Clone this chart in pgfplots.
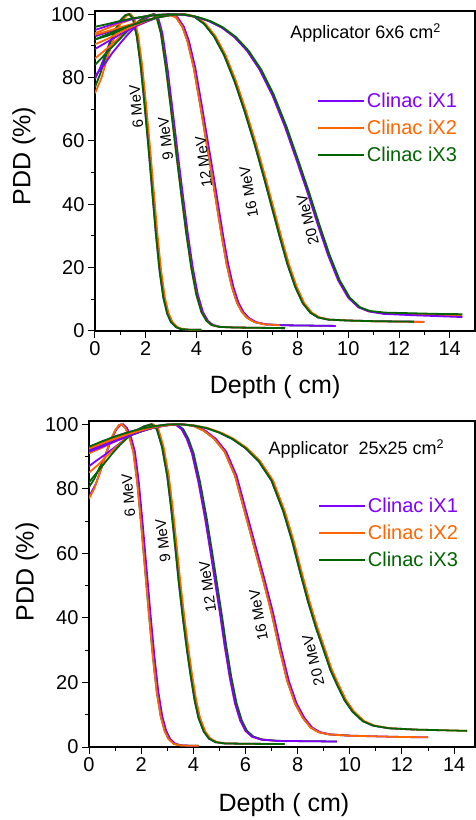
\documentclass[border=0pt]{standalone}
\usepackage{fontspec}
\setmainfont{Liberation Sans}
\usepackage{pgfplots}
\pgfplotsset{compat=1.18}

\definecolor{cv}{RGB}{128,0,255}
\definecolor{co}{RGB}{255,102,0}
\definecolor{cg}{RGB}{0,100,0}

\tikzset{mev/.style={font=\fontsize{15}{17}\selectfont, inner sep=0pt}}
\pgfplotsset{
  pdd/.style={
    scale only axis,
    xmin=0, ymin=0, ymax=101,
    xtick={0,2,...,14}, ytick={0,20,...,100},
    minor x tick num=1, minor y tick num=1,
    tick align=outside, xtick pos=left, ytick pos=left,
    major tick length=7pt, minor tick length=4pt,
    every tick/.style={black, line width=1pt},
    axis line style={line width=1.1pt},
    /pgf/number format/assume math mode=true,
    tick label style={font=\fontsize{20}{24}\selectfont},
    label style={font=\fontsize{25}{30}\selectfont},
    xlabel={Depth ( cm)}, ylabel={PDD (\%)},
    every axis plot/.append style={line width=1.8pt, forget plot},
    legend style={draw=none, fill=none, anchor=north west, inner sep=0pt,
      font=\fontsize{20}{24}\selectfont, row sep=7pt},
    legend cell align=left,
    legend image code/.code={\draw[#1, line width=1.8pt] (0pt,0pt) -- (46pt,0pt);},
  },
}

\begin{document}
\begin{tikzpicture}
\path[use as bounding box] (0,0) rectangle (476pt,820pt);

% ---------- Applicator 6x6 ----------
\begin{axis}[pdd, at={(95pt,489pt)}, anchor=south west,
  width=380pt, height=320pt, xmax=15,
  xlabel style={at={(axis description cs:0.474,-0.175)}, anchor=center},
  ylabel style={at={(axis description cs:-0.187,0.547)}, anchor=center, rotate=0},
  legend style={at={(axis description cs:0.584,0.75)}}]
% 6 MeV
\addplot[cv] coordinates {(0,79.5)(0.2,83)(0.4,87)(0.6,91.5)(0.8,95)(1.0,98)(1.2,99.7)(1.35,100)(1.5,98.5)(1.65,93)(1.8,84)(1.95,72)(2.1,59)(2.25,45)(2.4,31)(2.55,19)(2.7,10.5)(2.85,5.5)(3.0,2.8)(3.2,1.2)(3.4,0.6)(3.7,0.4)(4.2,0.4)};
\addplot[co] coordinates {(0,75)(0.26,80)(0.46,85.5)(0.66,90.5)(0.86,94.8)(1.06,97.8)(1.26,99.6)(1.41,100)(1.56,98.5)(1.71,93)(1.86,84)(2.01,72)(2.16,59)(2.31,45)(2.46,31)(2.61,19)(2.76,10.5)(2.91,5.5)(3.06,2.8)(3.26,1.2)(3.46,0.6)(3.76,0.4)(4.2,0.4)};
\addplot[cg] coordinates {(0,77)(0.2,81)(0.4,86)(0.6,91)(0.8,95)(1.0,98)(1.2,99.7)(1.35,100)(1.5,98.5)(1.65,93)(1.8,84)(1.95,72)(2.1,59)(2.25,45)(2.4,31)(2.55,19)(2.7,10.5)(2.85,5.5)(3.0,2.8)(3.2,1.2)(3.4,0.6)(3.7,0.4)(4.2,0.4)};
% 9 MeV
\addplot[cv] coordinates {(0,80.5)(0.36,84)(0.66,87.5)(0.96,90.5)(1.26,93.3)(1.56,95.8)(1.86,97.9)(2.16,99.4)(2.36,100)(2.51,98.5)(2.66,94)(2.86,83)(3.06,70)(3.26,56.5)(3.46,43.5)(3.66,31)(3.86,20)(4.06,11.5)(4.26,6)(4.46,3.2)(4.66,1.9)(4.96,1.3)(5.56,1.1)(6.5,1.0)(7.5,0.9)};
\addplot[co] coordinates {(0,86)(0.3,88)(0.6,90)(0.9,92.2)(1.2,94.4)(1.5,96.5)(1.8,98.2)(2.1,99.5)(2.3,100)(2.45,98.5)(2.6,94)(2.8,83)(3.0,70)(3.2,56.5)(3.4,43.5)(3.6,31)(3.8,20)(4.0,11.5)(4.2,6)(4.4,3.2)(4.6,1.9)(4.9,1.3)(5.5,1.1)(6.5,1.0)(7.5,0.9)};
\addplot[cg] coordinates {(0,84)(0.3,86.5)(0.6,89)(0.9,91.5)(1.2,94)(1.5,96.3)(1.8,98.2)(2.1,99.5)(2.3,100)(2.45,98.5)(2.6,94)(2.8,83)(3.0,70)(3.2,56.5)(3.4,43.5)(3.6,31)(3.8,20)(4.0,11.5)(4.2,6)(4.4,3.2)(4.6,1.9)(4.9,1.3)(5.5,1.1)(6.5,1.0)(7.5,0.9)};
% 12 MeV
\addplot[cg] coordinates {(0,92)(0.5,93.2)(1.0,94.8)(1.5,96.2)(2.0,97.8)(2.5,99.2)(2.9,100)(3.2,99)(3.45,96)(3.65,91.5)(3.9,83)(4.15,71.5)(4.4,59.5)(4.6,50)(4.8,40)(5.0,30)(5.2,21)(5.4,14)(5.6,9)(5.8,6)(6.0,4.2)(6.3,2.8)(6.7,2.1)(7.5,1.8)(8.5,1.7)(9.5,1.6)};
\addplot[cv] coordinates {(0,89)(0.56,91.6)(1.06,93.9)(1.56,96)(2.06,97.7)(2.56,99.2)(2.96,100)(3.26,99)(3.51,96)(3.71,91.5)(3.96,83)(4.21,71.5)(4.46,59.5)(4.66,50)(4.86,40)(5.06,30)(5.26,21)(5.46,14)(5.66,9)(5.86,6)(6.06,4.2)(6.36,2.8)(6.76,2.1)(7.5,1.8)(8.5,1.7)(9.5,1.6)};
\addplot[co] coordinates {(0,90.5)(0.5,92.2)(1.0,94.3)(1.5,96.2)(2.0,97.8)(2.5,99.2)(2.9,100)(3.2,99)(3.45,96)(3.65,91.5)(3.9,83)(4.15,71.5)(4.4,59.5)(4.6,50)(4.8,40)(5.0,30)(5.2,21)(5.4,14)(5.6,9)(5.8,6)(6.0,4.2)(6.3,2.8)(6.7,2.1)(7.3,1.8)};
% 16 MeV
\addplot[cv] coordinates {(0,93)(0.5,94.3)(1.0,95.6)(1.5,96.7)(2.0,98)(2.5,99)(3.0,99.7)(3.5,100)(3.9,99.3)(4.3,97)(4.7,93)(5.1,87)(5.5,79)(5.9,69.5)(6.3,59)(6.7,47.5)(7.0,38.5)(7.3,29.5)(7.6,21)(7.9,14)(8.2,8.8)(8.5,5.8)(8.8,4.3)(9.2,3.6)(10,3.3)(11,3.1)(12,3.0)(13,2.9)};
\addplot[co] coordinates {(0,93.5)(0.56,94.8)(1.06,96)(1.56,97.1)(2.06,98.2)(2.56,99.1)(3.06,99.7)(3.56,100)(3.96,99.3)(4.36,97)(4.76,93)(5.16,87)(5.56,79)(5.96,69.5)(6.36,59)(6.76,47.5)(7.06,38.5)(7.36,29.5)(7.66,21)(7.96,14)(8.26,8.8)(8.56,5.8)(8.86,4.3)(9.26,3.6)(10.06,3.3)(11,3.05)(12,2.95)(13,2.85)};
\addplot[cg] coordinates {(0,92)(0.5,93.7)(1.0,95.3)(1.5,96.7)(2.0,98)(2.5,99)(3.0,99.7)(3.5,100)(3.9,99.3)(4.3,97)(4.7,93)(5.1,87)(5.5,79)(5.9,69.5)(6.3,59)(6.7,47.5)(7.0,38.5)(7.3,29.5)(7.6,21)(7.9,14)(8.2,8.8)(8.5,5.8)(8.8,4.3)(9.2,3.6)(10,3.3)(11,3.1)(12,3.0)(12.6,2.95)};
% 20 MeV
\addplot[co] coordinates {(0,94)(0.5,95.6)(1.0,97.1)(1.5,98.5)(2.0,99.3)(2.5,99.8)(3.0,100)(3.5,99.8)(4.0,99.1)(4.5,97.8)(5.0,95.8)(5.5,92.8)(6.0,88.5)(6.5,82.5)(7.0,74.5)(7.5,64.5)(8.0,53)(8.4,43.5)(8.8,33.5)(9.2,24)(9.6,16)(10.0,10.5)(10.4,7.5)(10.8,6.2)(11.4,5.5)(12.5,5.2)(13.5,5.0)(14.5,4.8)};
\addplot[cv] coordinates {(0,95)(0.5,96.3)(1.0,97.5)(1.5,98.5)(2.0,99.3)(2.5,99.8)(3.0,100)(3.5,99.8)(4.0,99.1)(4.5,97.8)(5.0,95.8)(5.5,92.8)(6.0,88.5)(6.5,82.5)(7.0,74.5)(7.5,64.5)(8.0,53)(8.4,43.5)(8.8,33.5)(9.2,24)(9.6,16)(10.0,10.5)(10.4,7.5)(10.8,6.2)(11.4,5.4)(12.5,5.0)(13.5,4.7)(14.5,4.4)};
\addplot[cg] coordinates {(0,96)(0.56,97)(1.06,98)(1.56,98.8)(2.06,99.4)(2.56,99.8)(3.06,100)(3.56,99.8)(4.06,99.1)(4.56,97.8)(5.06,95.8)(5.56,92.8)(6.06,88.5)(6.56,82.5)(7.06,74.5)(7.56,64.5)(8.06,53)(8.46,43.5)(8.86,33.5)(9.26,24)(9.66,16)(10.06,10.5)(10.46,7.5)(10.86,6.3)(11.46,5.8)(12.5,5.6)(13.5,5.4)(14.5,5.3)};

\addlegendimage{cv}\addlegendentry[text=cv]{Clinac iX1}
\addlegendimage{co}\addlegendentry[text=co]{Clinac iX2}
\addlegendimage{cg}\addlegendentry[text=cg]{Clinac iX3}

\node[anchor=west, font=\fontsize{18}{20}\selectfont] at (axis description cs:0.505,0.931) {Applicator 6x6 cm\textsuperscript{2}};
\node[mev, rotate=95] at (axis cs:1.63,70.8) {6 MeV};
\node[mev, rotate=97] at (axis cs:2.79,60.8) {9 MeV};
\node[mev, rotate=98] at (axis cs:4.29,53.4) {12 MeV};
\node[mev, rotate=100] at (axis cs:6.07,43.9) {16 MeV};
\node[mev, rotate=104] at (axis cs:8.4,35) {20 MeV};
\end{axis}

% ---------- Applicator 25x25 ----------
\begin{axis}[pdd, at={(89pt,73pt)}, anchor=south west,
  width=386pt, height=326pt, xmax=14.8,
  xlabel style={at={(axis description cs:0.505,-0.178)}, anchor=center},
  ylabel style={at={(axis description cs:-0.16,0.537)}, anchor=center, rotate=0},
  legend style={at={(axis description cs:0.593,0.77)}}]
% 6 MeV
\addplot[cg] coordinates {(0,80.5)(0.2,83)(0.4,86.5)(0.6,89.5)(0.8,94.5)(1.0,98)(1.15,99.7)(1.25,100)(1.4,98.8)(1.55,96)(1.7,91.5)(1.85,82)(2.0,69)(2.15,55)(2.3,41)(2.45,28)(2.6,17)(2.75,9.5)(2.9,5)(3.05,2.5)(3.25,1.0)(3.5,0.5)(3.8,0.4)(4.2,0.4)};
\addplot[cv] coordinates {(0,77.5)(0.26,81.5)(0.46,86)(0.66,91)(0.86,95.5)(1.06,98.5)(1.21,99.8)(1.31,100)(1.46,98.8)(1.61,96)(1.76,91.5)(1.91,82)(2.06,69)(2.21,55)(2.36,41)(2.51,28)(2.66,17)(2.81,9.5)(2.96,5)(3.11,2.5)(3.31,1.0)(3.56,0.5)(3.86,0.4)(4.2,0.4)};
\addplot[co] coordinates {(0,77)(0.2,80)(0.4,84.5)(0.6,89.5)(0.8,94.5)(1.0,98)(1.15,99.7)(1.25,100)(1.4,98.8)(1.55,96)(1.7,91.5)(1.85,82)(2.0,69)(2.15,55)(2.3,41)(2.45,28)(2.6,17)(2.75,9.5)(2.9,5)(3.05,2.5)(3.25,1.0)(3.5,0.5)(3.8,0.4)(4.2,0.4)};
% 9 MeV
\addplot[cv] coordinates {(0,87)(0.3,88.8)(0.6,90.5)(0.9,92.3)(1.2,94.2)(1.5,96.2)(1.8,98)(2.1,99.3)(2.4,100)(2.6,98.5)(2.8,93)(3.0,84)(3.15,74)(3.3,62.5)(3.45,50.5)(3.6,40)(3.75,30.5)(3.9,22)(4.05,14.5)(4.2,9)(4.4,4.8)(4.6,2.6)(4.85,1.5)(5.2,1.1)(6.0,1.0)(7.5,0.9)};
\addplot[co] coordinates {(0,85)(0.36,87.5)(0.66,90)(0.96,92.3)(1.26,94.5)(1.56,96.5)(1.86,98.2)(2.16,99.4)(2.46,100)(2.66,98.5)(2.86,93)(3.06,84)(3.21,74)(3.36,62.5)(3.51,50.5)(3.66,40)(3.81,30.5)(3.96,22)(4.11,14.5)(4.26,9)(4.46,4.8)(4.66,2.6)(4.91,1.5)(5.26,1.1)(6.0,1.0)(7.5,0.9)};
\addplot[cg] coordinates {(0,82)(0.3,85)(0.6,88)(0.9,91)(1.2,93.7)(1.5,96)(1.8,98)(2.1,99.3)(2.4,100)(2.6,98.5)(2.8,93)(3.0,84)(3.15,74)(3.3,62.5)(3.45,50.5)(3.6,40)(3.75,30.5)(3.9,22)(4.05,14.5)(4.2,9)(4.4,4.8)(4.6,2.6)(4.85,1.5)(5.2,1.1)(6.0,1.0)(7.5,0.9)};
% 12 MeV
\addplot[co] coordinates {(0,91)(0.5,92.7)(1.0,94.7)(1.5,96.3)(2.0,97.8)(2.5,99)(3.0,99.8)(3.3,100)(3.55,98.5)(3.75,95.5)(3.95,91)(4.2,82)(4.45,71)(4.65,61)(4.85,50.5)(5.05,40)(5.2,31.5)(5.4,21.5)(5.6,13.5)(5.8,8.2)(6.0,5)(6.25,3.2)(6.6,2.3)(7.2,1.9)};
\addplot[cg] coordinates {(0,92)(0.56,93.4)(1.06,95)(1.56,96.5)(2.06,97.9)(2.56,99.1)(3.06,99.8)(3.36,100)(3.61,98.5)(3.81,95.5)(4.01,91)(4.26,82)(4.51,71)(4.71,61)(4.91,50.5)(5.11,40)(5.26,31.5)(5.46,21.5)(5.66,13.5)(5.86,8.2)(6.06,5)(6.31,3.2)(6.66,2.3)(7.26,1.9)(8.3,1.8)(9.5,1.7)};
\addplot[cv] coordinates {(0,91.5)(0.5,93)(1.0,94.7)(1.5,96.3)(2.0,97.8)(2.5,99)(3.0,99.8)(3.3,100)(3.55,98.5)(3.75,95.5)(3.95,91)(4.2,82)(4.45,71)(4.65,61)(4.85,50.5)(5.05,40)(5.2,31.5)(5.4,21.5)(5.6,13.5)(5.8,8.2)(6.0,5)(6.25,3.2)(6.6,2.3)(7.2,1.9)(8.3,1.8)(9.5,1.7)};
% 16 MeV
\addplot[cg] coordinates {(0,93)(0.5,94.3)(1.0,95.5)(1.5,96.9)(2.0,98.1)(2.5,99.1)(3.0,99.7)(3.5,100)(4.0,99.5)(4.4,98)(4.8,95.5)(5.2,91.5)(5.6,84)(6.0,72)(6.35,61.5)(6.7,51)(7.0,41.5)(7.3,30.5)(7.6,20.5)(7.9,13.5)(8.2,9)(8.5,6)(8.8,4.6)(9.2,3.9)(10,3.5)};
\addplot[cv] coordinates {(0,92)(0.56,93.8)(1.06,95.4)(1.56,96.9)(2.06,98.1)(2.56,99.1)(3.06,99.7)(3.56,100)(4.06,99.5)(4.46,98)(4.86,95.5)(5.26,91.5)(5.66,84)(6.06,72)(6.41,61.5)(6.76,51)(7.06,41.5)(7.36,30.5)(7.66,20.5)(7.96,13.5)(8.26,9)(8.56,6)(8.86,4.6)(9.26,3.9)(10.06,3.5)(11,3.3)(12,3.1)(13,3.0)};
\addplot[co] coordinates {(0,92.5)(0.5,94)(1.0,95.5)(1.5,96.9)(2.0,98.1)(2.5,99.1)(3.0,99.7)(3.5,100)(4.0,99.5)(4.4,98)(4.8,95.5)(5.2,91.5)(5.6,84)(6.0,72)(6.35,61.5)(6.7,51)(7.0,41.5)(7.3,30.5)(7.6,20.5)(7.9,13.5)(8.2,9)(8.5,6)(8.8,4.6)(9.2,3.9)(10,3.5)(11,3.3)(12,3.1)(13,3.0)};
% 20 MeV
\addplot[cv] coordinates {(0,92.8)(0.5,94.6)(1.0,96.2)(1.5,97.5)(2.0,98.6)(2.5,99.4)(3.0,99.9)(3.5,100)(4.0,99.6)(4.5,98.8)(5.0,97.4)(5.5,95.4)(6.0,92.6)(6.5,88.6)(7.0,82.5)(7.45,73)(7.8,63.5)(8.1,54)(8.4,45)(8.7,37)(9.0,30)(9.25,24)(9.5,19.5)(9.8,14.5)(10.1,11)(10.5,8)(10.9,6.6)(11.5,5.8)(12.5,5.4)};
\addplot[co] coordinates {(0,92.5)(0.56,94.6)(1.06,96.2)(1.56,97.5)(2.06,98.6)(2.56,99.4)(3.06,99.9)(3.56,100)(4.06,99.6)(4.56,98.8)(5.06,97.4)(5.56,95.4)(6.06,92.6)(6.56,88.6)(7.06,82.5)(7.51,73)(7.86,63.5)(8.16,54)(8.46,45)(8.76,37)(9.06,30)(9.31,24)(9.56,19.5)(9.86,14.5)(10.16,11)(10.56,8)(10.96,6.6)(11.56,5.8)(12.5,5.4)(13.5,5.2)(14.5,5.0)};
\addplot[cg] coordinates {(0,93)(0.5,94.7)(1.0,96.2)(1.5,97.5)(2.0,98.6)(2.5,99.4)(3.0,99.9)(3.5,100)(4.0,99.6)(4.5,98.8)(5.0,97.4)(5.5,95.4)(6.0,92.6)(6.5,88.6)(7.0,82.5)(7.45,73)(7.8,63.5)(8.1,54)(8.4,45)(8.7,37)(9.0,30)(9.25,24)(9.5,19.5)(9.8,14.5)(10.1,11)(10.5,8)(10.9,6.6)(11.5,5.8)(12.5,5.4)(13.5,5.2)(14.5,5.0)};

\addlegendimage{cv}\addlegendentry[text=cv]{Clinac iX1}
\addlegendimage{co}\addlegendentry[text=co]{Clinac iX2}
\addlegendimage{cg}\addlegendentry[text=cg]{Clinac iX3}

\node[anchor=west, font=\fontsize{18}{20}\selectfont] at (axis description cs:0.456,0.914) {Applicator\ \ 25x25 cm\textsuperscript{2}};
\node[mev, rotate=95] at (axis cs:1.51,78) {6 MeV};
\node[mev, rotate=97] at (axis cs:2.83,64) {9 MeV};
\node[mev, rotate=98] at (axis cs:4.55,49.7) {12 MeV};
\node[mev, rotate=100] at (axis cs:6.5,40.8) {16 MeV};
\node[mev, rotate=104] at (axis cs:8.6,26.9) {20 MeV};
\end{axis}
\end{tikzpicture}
\end{document}
